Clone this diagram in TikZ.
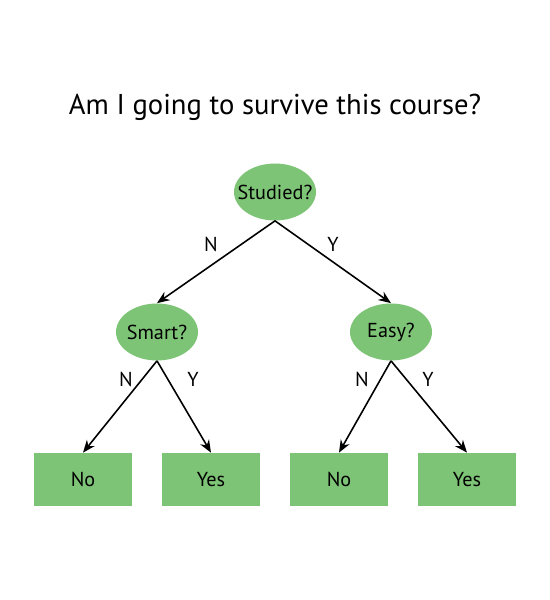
\documentclass[tikz,border=0pt]{standalone}
\usepackage{fontspec}
\setmainfont{PT Sans}
\usetikzlibrary{arrows.meta,shapes.geometric}
\definecolor{leafgreen}{RGB}{126,196,118}
\begin{document}
\begin{tikzpicture}[x=1cm,y=1cm]
    \tikzstyle{test}=[ellipse, fill=leafgreen, minimum width=1.64cm, minimum height=1.14cm, inner xsep=-0.3cm, inner ysep=0pt, font=\fontsize{11.5}{13}\selectfont]
    \tikzstyle{leaf}=[rectangle, fill=leafgreen, minimum width=1.96cm, minimum height=1.06cm, inner sep=0pt, font=\fontsize{11.5}{13}\selectfont]
    \tikzstyle{branch}=[-{Stealth[length=0.25cm, width=0.2cm]}, line width=0.9pt]
    \tikzstyle{lab}=[font=\fontsize{11.5}{13}\selectfont]
    \useasboundingbox (0,0) rectangle (11,12);
    \node[font=\fontsize{16.3}{19}\selectfont] (title) at (5.5,9.86) {Am I going to survive this course?};
    % questions
    \node[test] (root) at (5.5,8.16) {Studied?};
    \node[test] (smart) at (3.14,5.36) {Smart?};
    \node[test] (easy) at (7.82,5.36) {Easy?};
    % answers
    \foreach \n/\x/\t in {l1/1.66/No, l2/4.22/Yes, l3/6.78/No, l4/9.34/Yes} {
      \node[leaf] (\n) at (\x,2.41) {\t};
    }
    \draw[branch] (root.south) -- (smart.north);
    \draw[branch] (root.south) -- (easy.north);
    \draw[branch] (smart.south) -- (l1.north);
    \draw[branch] (smart.south) -- (l2.north);
    \draw[branch] (easy.south) -- (l3.north);
    \draw[branch] (easy.south) -- (l4.north);
    \node[lab] (rn) at (4.22,7.12) {N};
    \node[lab] (ry) at (6.66,7.12) {Y};
    \node[lab] (sn) at (2.52,4.42) {N};
    \node[lab] (sy) at (3.86,4.42) {Y};
    \node[lab] (en) at (7.24,4.42) {N};
    \node[lab] (ey) at (8.56,4.42) {Y};
  \end{tikzpicture}
\end{document}
